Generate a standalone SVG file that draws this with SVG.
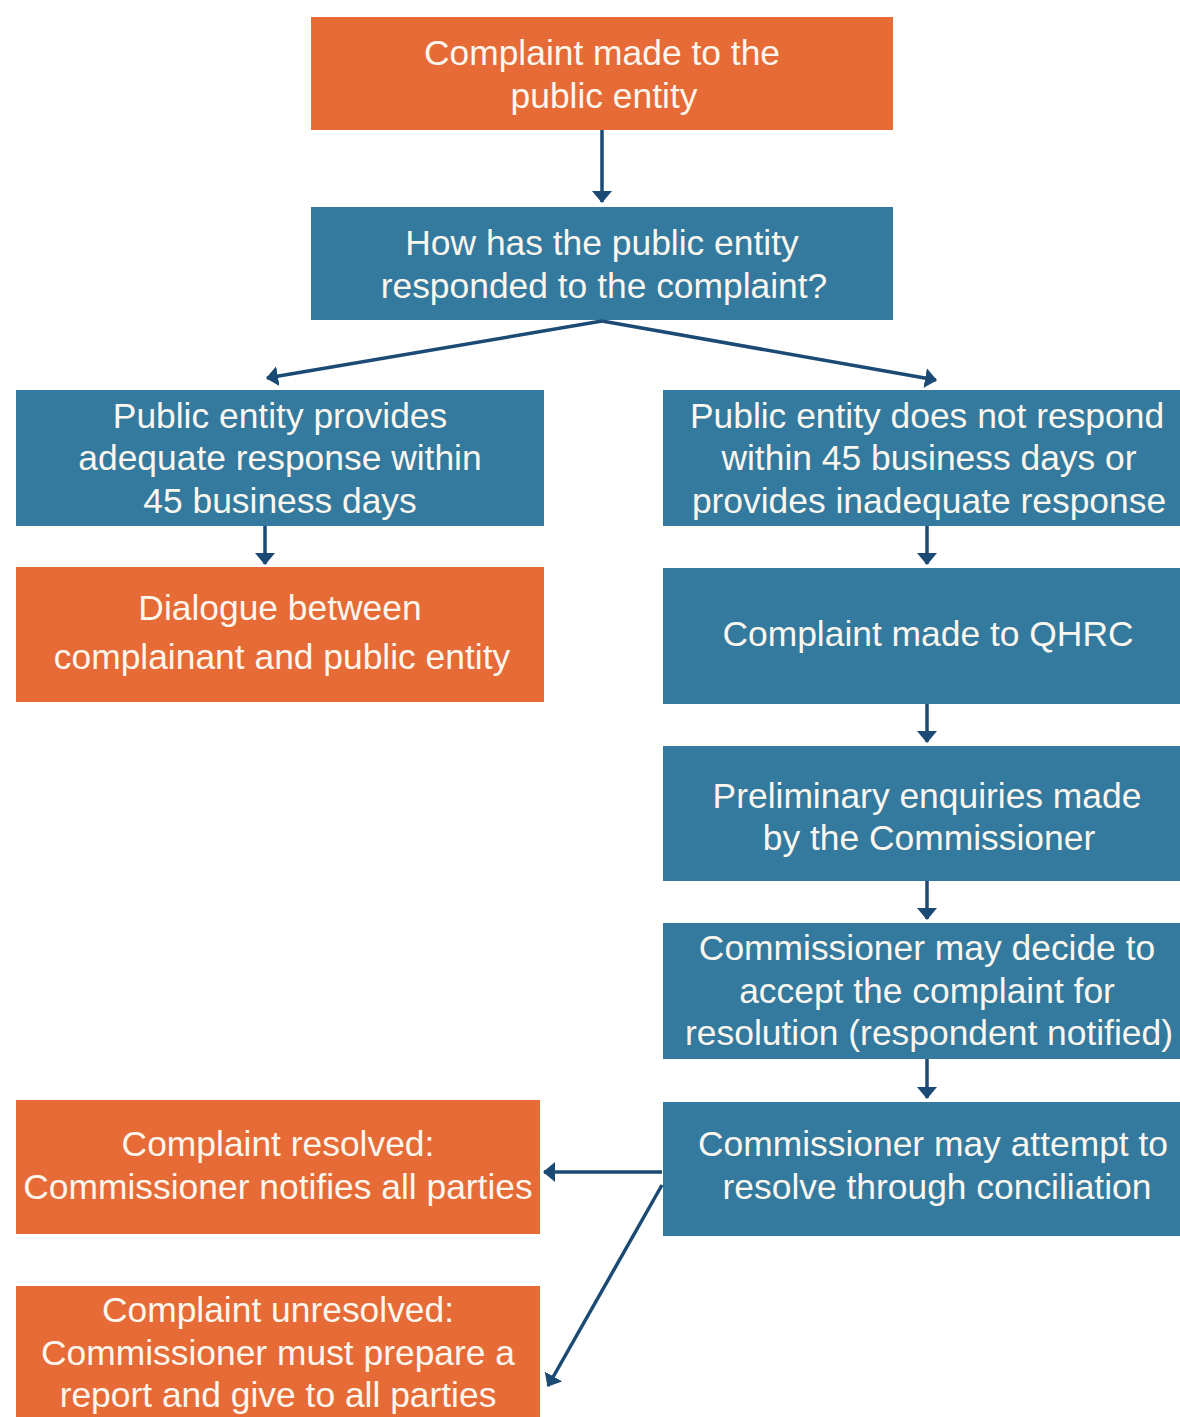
<svg xmlns="http://www.w3.org/2000/svg" width="1180" height="1417" viewBox="0 0 1180 1417">
<defs>
<marker id="ah" viewBox="0 0 12 20" refX="11" refY="10" markerWidth="12" markerHeight="20" markerUnits="userSpaceOnUse" orient="auto">
<path d="M0,0 L12,10 L0,20 z" fill="#1b4a74"/>
</marker>
<style>
.or{fill:#e66b37;}
.bl{fill:#337a9e;}
text{font-family:"Liberation Sans",Arial,sans-serif;font-size:35.4px;fill:#fbf6ee;text-anchor:middle;}
.c{stroke:#1b4a74;stroke-width:3.5;fill:none;}
</style>
</defs>
<rect width="1180" height="1417" fill="#ffffff"/>
<g id="n1"><rect class="or" x="311" y="17" width="582" height="113"/><text x="602" y="65">Complaint made to the</text><text x="604" y="108">public entity</text></g>
<g id="n2"><rect class="bl" x="311" y="207" width="582" height="113"/><text x="602" y="255">How has the public entity</text><text x="604" y="298">responded to the complaint?</text></g>
<g id="n3"><rect class="bl" x="16" y="390" width="528" height="136"/><text x="280" y="428">Public entity provides</text><text x="280" y="470">adequate response within</text><text x="280" y="513">45 business days</text></g>
<g id="n4"><rect class="bl" x="663" y="390" width="517" height="136"/><text x="927" y="428">Public entity does not respond</text><text x="929" y="470">within 45 business days or</text><text x="929" y="513">provides inadequate response</text></g>
<g id="n5"><rect class="or" x="16" y="567" width="528" height="135"/><text x="280" y="620">Dialogue between</text><text x="282" y="669">complainant and public entity</text></g>
<g id="n6"><rect class="bl" x="663" y="568" width="517" height="136"/><text x="928" y="646">Complaint made to QHRC</text></g>
<g id="n7"><rect class="bl" x="663" y="746" width="517" height="135"/><text x="927" y="808">Preliminary enquiries made</text><text x="929" y="850">by the Commissioner</text></g>
<g id="n8"><rect class="bl" x="663" y="923" width="517" height="136"/><text x="927" y="960">Commissioner may decide to</text><text x="927" y="1003">accept the complaint for</text><text x="929" y="1045">resolution (respondent notified)</text></g>
<g id="n9"><rect class="bl" x="663" y="1102" width="517" height="134"/><text x="933" y="1156">Commissioner may attempt to</text><text x="937" y="1199">resolve through conciliation</text></g>
<g id="n10"><rect class="or" x="16" y="1100" width="524" height="134"/><text x="278" y="1156">Complaint resolved:</text><text x="278" y="1199">Commissioner notifies all parties</text></g>
<g id="n11"><rect class="or" x="16" y="1286" width="524" height="131"/><text x="278" y="1322">Complaint unresolved:</text><text x="278" y="1365">Commissioner must prepare a</text><text x="278" y="1407">report and give to all parties</text></g>
<g id="connectors">
<line class="c" x1="602" y1="130" x2="602" y2="202" marker-end="url(#ah)"/>
<line class="c" x1="602" y1="321" x2="267" y2="378" marker-end="url(#ah)"/>
<line class="c" x1="602" y1="321" x2="936" y2="380" marker-end="url(#ah)"/>
<line class="c" x1="265" y1="526" x2="265" y2="564" marker-end="url(#ah)"/>
<line class="c" x1="927" y1="526" x2="927" y2="564" marker-end="url(#ah)"/>
<line class="c" x1="927" y1="704" x2="927" y2="742" marker-end="url(#ah)"/>
<line class="c" x1="927" y1="881" x2="927" y2="919" marker-end="url(#ah)"/>
<line class="c" x1="927" y1="1059" x2="927" y2="1098" marker-end="url(#ah)"/>
<line class="c" x1="662" y1="1172" x2="544" y2="1172" marker-end="url(#ah)"/>
<line class="c" x1="662" y1="1185" x2="548" y2="1386" marker-end="url(#ah)"/>
</g>
</svg>
